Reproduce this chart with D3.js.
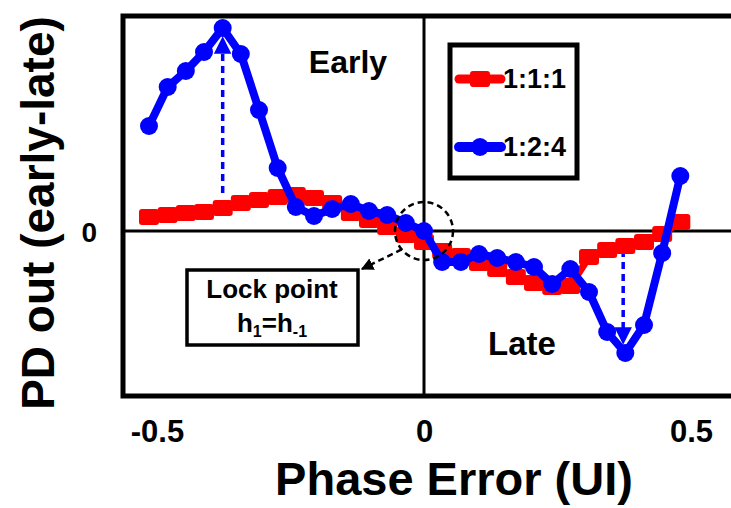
<!DOCTYPE html>
<html>
<head>
<meta charset="utf-8">
<script src="https://cdn.jsdelivr.net/npm/d3@7"></script>
<style>
  body { margin: 0; background: #fff; }
  svg { display: block; font-family: "Liberation Sans", Arial, sans-serif; font-weight: bold; }
</style>
</head>
<body>
<div id="viz"></div>
<script>
// phase error (UI) of each sample
const phase = [-0.515, -0.480, -0.446, -0.412, -0.377, -0.343, -0.309, -0.274, -0.240, -0.206,
               -0.172, -0.137, -0.103, -0.069, -0.034, 0.000, 0.034, 0.069, 0.103, 0.137,
               0.172, 0.206, 0.240, 0.274, 0.309, 0.343, 0.377, 0.412, 0.446, 0.480];
// PD out (early-late), arbitrary units
const ratio111 = [0.14, 0.16, 0.18, 0.19, 0.23, 0.28, 0.31, 0.34, 0.36, 0.33,
                  0.28, 0.18, 0.11, 0.04, -0.04, -0.11, -0.20, -0.25, -0.32, -0.38,
                  -0.46, -0.52, -0.56, -0.55, -0.26, -0.19, -0.15, -0.11, -0.03, 0.09];
const ratio124 = [1.05, 1.44, 1.60, 1.79, 2.03, 1.77, 1.21, 0.63, 0.24, 0.15,
                  0.22, 0.27, 0.20, 0.16, 0.08, 0.00, -0.31, -0.31, -0.23, -0.27,
                  -0.31, -0.36, -0.53, -0.38, -0.61, -1.01, -1.22, -0.94, -0.22, 0.55];
const seriesNames = ["1:1:1", "1:2:4"];
const seriesColors = ["#ff0000", "#0000ff"];
const xTicks = [-0.5, 0, 0.5];
const yTicks = [0];

const width = 731, height = 508;
const frame = { left: 123, top: 16, right: 760, bottom: 396 };

const svg = d3.select("#viz").append("svg")
    .attr("width", width)
    .attr("height", height);

const x = d3.scaleLinear().domain([-0.5, 0.5]).range([157, 691]);
const y = d3.scaleLinear().domain([-1.65, 2.15]).range([frame.bottom, frame.bottom - 380]);

// frame
svg.append("rect")
    .attr("x", frame.left).attr("y", frame.top)
    .attr("width", frame.right - frame.left).attr("height", frame.bottom - frame.top)
    .attr("fill", "none").attr("stroke", "#000").attr("stroke-width", 5);

// zero lines
svg.append("line")
    .attr("x1", frame.left).attr("x2", frame.right)
    .attr("y1", y(0)).attr("y2", y(0))
    .attr("stroke", "#000").attr("stroke-width", 3);
svg.append("line")
    .attr("x1", x(0)).attr("x2", x(0))
    .attr("y1", frame.top).attr("y2", frame.bottom)
    .attr("stroke", "#000").attr("stroke-width", 3);

// axes (labels only)
const xAxis = svg.append("g")
    .attr("transform", `translate(0,${frame.bottom})`)
    .call(d3.axisBottom(x).tickValues(xTicks).tickSize(0).tickFormat(d => String(d)));
xAxis.select(".domain").remove();
xAxis.selectAll("text")
    .attr("y", 46).attr("dy", 0)
    .style("font-size", "31px").style("font-family", "Liberation Sans, Arial, sans-serif")
    .style("font-weight", "bold").attr("fill", "#000");

const yAxis = svg.append("g")
    .attr("transform", `translate(${frame.left},0)`)
    .call(d3.axisLeft(y).tickValues(yTicks).tickSize(0).tickFormat(d => String(d)));
yAxis.select(".domain").remove();
yAxis.selectAll("text")
    .attr("x", -26).attr("dy", "0.36em")
    .style("font-size", "28px").style("font-family", "Liberation Sans, Arial, sans-serif")
    .style("font-weight", "bold").attr("fill", "#000");

// axis titles
svg.append("text")
    .attr("x", 454).attr("y", 495)
    .attr("text-anchor", "middle")
    .style("font-size", "47px")
    .text("Phase Error (UI)");
svg.append("text")
    .attr("transform", "translate(54,213) rotate(-90)")
    .attr("text-anchor", "middle")
    .style("font-size", "46px")
    .text("PD out (early-late)");

// region labels
svg.append("text").attr("x", 348).attr("y", 73).attr("text-anchor", "middle")
    .style("font-size", "32px").text("Early");
svg.append("text").attr("x", 522).attr("y", 355).attr("text-anchor", "middle")
    .style("font-size", "33px").text("Late");

// arrow heads
svg.append("defs").selectAll("marker")
    .data([{ id: "blueHead", c: "#0000ff" }, { id: "blackHead", c: "#000" }])
    .join("marker")
        .attr("id", d => d.id)
        .attr("viewBox", "0 0 10 10")
        .attr("refX", 9).attr("refY", 5)
        .attr("markerWidth", 5).attr("markerHeight", 5)
        .attr("markerUnits", "strokeWidth")
        .attr("orient", "auto")
    .append("path")
        .attr("d", "M0,0 L10,5 L0,10 Z")
        .attr("fill", d => d.c);

// dashed swing arrows (blue)
const blueArrows = [
    { px: phase[4], from: 0.38, to: 1.93 },
    { px: 0.373, from: -0.19, to: -1.12 }
];
svg.selectAll(".swing-arrow")
    .data(blueArrows)
    .join("line")
        .attr("class", "swing-arrow")
        .attr("x1", d => x(d.px)).attr("x2", d => x(d.px))
        .attr("y1", d => y(d.from)).attr("y2", d => y(d.to))
        .attr("stroke", "#0000ff").attr("stroke-width", 3.5)
        .attr("stroke-dasharray", "7,5")
        .attr("marker-end", "url(#blueHead)");

// series
const line = d3.line().x(d => x(d[0])).y(d => y(d[1]));
const s111 = phase.map((p, i) => [p, ratio111[i]]);
const s124 = phase.map((p, i) => [p, ratio124[i]]);

svg.append("path").datum(s111)
    .attr("d", line).attr("fill", "none")
    .attr("stroke", seriesColors[0]).attr("stroke-width", 7);
svg.selectAll(".m111").data(s111).join("rect")
    .attr("class", "m111")
    .attr("x", d => x(d[0]) - 10).attr("y", d => y(d[1]) - 8)
    .attr("width", 20).attr("height", 16).attr("rx", 3)
    .attr("fill", seriesColors[0]);

svg.append("path").datum(s124)
    .attr("d", line).attr("fill", "none")
    .attr("stroke", seriesColors[1]).attr("stroke-width", 8)
    .attr("stroke-linejoin", "round");
svg.selectAll(".m124").data(s124).join("circle")
    .attr("class", "m124")
    .attr("cx", d => x(d[0])).attr("cy", d => y(d[1]))
    .attr("r", 9)
    .attr("fill", seriesColors[1]);

// lock point circle and callout
const cx = x(0), cy = y(0), cr = 29;
svg.append("circle")
    .attr("cx", cx).attr("cy", cy).attr("r", cr)
    .attr("fill", "none").attr("stroke", "#000")
    .attr("stroke-width", 2.5).attr("stroke-dasharray", "6,4");
const ang = Math.PI * 0.78;
svg.append("line")
    .attr("x1", cx + cr * Math.cos(ang)).attr("y1", cy + cr * Math.sin(ang))
    .attr("x2", 362).attr("y2", 269)
    .attr("stroke", "#000").attr("stroke-width", 2.5)
    .attr("stroke-dasharray", "6,4")
    .attr("marker-end", "url(#blackHead)");

svg.append("rect")
    .attr("x", 187).attr("y", 270).attr("width", 171).attr("height", 75)
    .attr("fill", "#fff").attr("stroke", "#000").attr("stroke-width", 3.5);
svg.append("text").attr("x", 272).attr("y", 298).attr("text-anchor", "middle")
    .style("font-size", "26px").text("Lock point");
const eq = svg.append("text").attr("x", 272).attr("y", 332).attr("text-anchor", "middle")
    .style("font-size", "26px");
eq.append("tspan").text("h");
eq.append("tspan").attr("dy", 5).style("font-size", "16px").text("1");
eq.append("tspan").attr("dy", -5).text("=h");
eq.append("tspan").attr("dy", 5).style("font-size", "16px").text("-1");

// legend
svg.append("rect")
    .attr("x", 450).attr("y", 45).attr("width", 127).attr("height", 133)
    .attr("fill", "#fff").attr("stroke", "#000").attr("stroke-width", 5);
const legend = svg.selectAll(".legend-item")
    .data(seriesNames)
    .join("g")
        .attr("class", "legend-item")
        .attr("transform", (d, i) => `translate(0,${79 + i * 68})`);
legend.append("line")
    .attr("x1", 459).attr("x2", 501)
    .attr("stroke", (d, i) => seriesColors[i]).attr("stroke-width", (d, i) => i ? 10 : 9)
    .attr("stroke-linecap", "round");
legend.filter((d, i) => i === 0).append("rect")
    .attr("x", 470).attr("y", -8).attr("width", 20).attr("height", 16).attr("rx", 3)
    .attr("fill", seriesColors[0]);
legend.filter((d, i) => i === 1).append("circle")
    .attr("cx", 480).attr("r", 9).attr("fill", seriesColors[1]);
legend.append("text")
    .attr("x", 503).attr("y", 9)
    .style("font-size", "27px")
    .text(d => d);
</script>
</body>
</html>
